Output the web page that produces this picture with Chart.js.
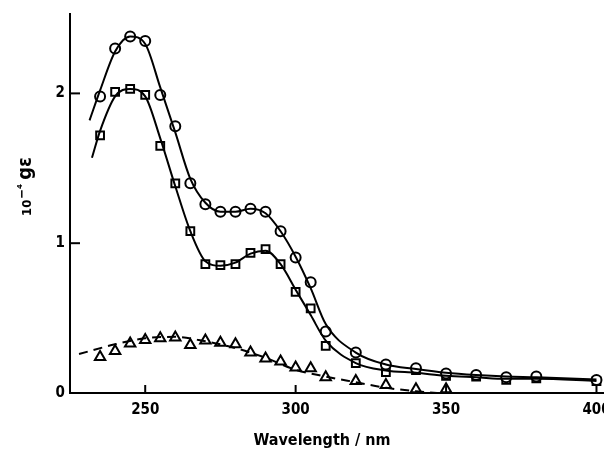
<!DOCTYPE html>
<html>
<head>
<meta charset="utf-8">
<script src="https://cdn.jsdelivr.net/npm/chart.js@4/dist/chart.umd.min.js"></script>
<style>
  html, body { margin: 0; padding: 0; background: #fff; overflow: hidden; }
  #wrap { width: 620px; height: 459px; }
</style>
</head>
<body>
<div id="wrap"><canvas id="spectrum"></canvas></div>
<script>
// values
const circleNm = [235, 240, 245, 250, 255, 260, 265, 270, 275, 280, 285, 290, 295, 300, 305, 310, 320, 330, 340, 350, 360, 370, 380, 400];
const circleEps = [1.98, 2.30, 2.38, 2.35, 1.99, 1.78, 1.40, 1.26, 1.21, 1.21, 1.23, 1.21, 1.08, 0.905, 0.74, 0.41, 0.27, 0.19, 0.165, 0.13, 0.12, 0.105, 0.11, 0.087];

const squareNm = [235, 240, 245, 250, 255, 260, 265, 270, 275, 280, 285, 290, 295, 300, 305, 310, 320, 330, 340, 350, 360, 370, 380, 400];
const squareEps = [1.72, 2.01, 2.03, 1.99, 1.65, 1.40, 1.08, 0.86, 0.853, 0.86, 0.935, 0.96, 0.86, 0.675, 0.565, 0.315, 0.20, 0.14, 0.153, 0.115, 0.11, 0.087, 0.098, 0.08];

const triangleNm = [235, 240, 245, 250, 255, 260, 265, 270, 275, 280, 285, 290, 295, 300, 305, 310, 320, 330, 340, 350];
const triangleEps = [0.24, 0.28, 0.33, 0.353, 0.365, 0.37, 0.32, 0.35, 0.335, 0.325, 0.27, 0.23, 0.21, 0.17, 0.165, 0.105, 0.08, 0.053, 0.025, 0.025];

// the fitted solid curves
const circleCurveNm = [231.5, 235, 240, 245, 250, 255, 260, 265, 270, 275, 280, 285, 290, 295, 300, 305, 310, 320, 330, 340, 350, 360, 370, 380, 400];
const circleCurveEps = [1.82, 2.02, 2.28, 2.38, 2.33, 2.04, 1.74, 1.43, 1.27, 1.21, 1.21, 1.23, 1.20, 1.08, 0.91, 0.70, 0.46, 0.27, 0.19, 0.16, 0.135, 0.12, 0.11, 0.105, 0.09];

const squareCurveNm = [232.3, 235, 240, 245, 250, 255, 260, 265, 270, 275, 280, 285, 290, 295, 300, 305, 310, 320, 330, 340, 350, 360, 370, 380, 400];
const squareCurveEps = [1.57, 1.75, 1.98, 2.03, 1.98, 1.70, 1.38, 1.08, 0.88, 0.85, 0.87, 0.93, 0.95, 0.86, 0.69, 0.52, 0.35, 0.20, 0.15, 0.135, 0.115, 0.105, 0.095, 0.095, 0.08];

// dashed fit under the triangles
const dashNm = [228, 240, 250, 260, 270, 280, 290, 300, 310, 320, 330, 340, 347];
const dashEps = [0.26, 0.325, 0.365, 0.375, 0.345, 0.30, 0.235, 0.155, 0.11, 0.072, 0.035, 0.012, 0];

const xTicks = [250, 300, 350, 400];
const yTicks = [0, 1, 2];

const FONT = "'DejaVu Sans Condensed', 'DejaVu Sans', sans-serif";

function toPoints(xs, ys) {
    return xs.map((x, i) => ({ x: x, y: ys[i] }));
}

// Inward tick marks and the axis titles
const axisExtras = {
    id: 'axisExtras',
    afterDraw(chart) {
        const ctx = chart.ctx;
        const xs = chart.scales.x;
        const ys = chart.scales.y;
        const area = chart.chartArea;
        ctx.save();
        ctx.strokeStyle = '#000';
        ctx.lineWidth = 2;
        xTicks.forEach(v => {
            const px = xs.getPixelForValue(v);
            ctx.beginPath();
            ctx.moveTo(px, area.bottom);
            ctx.lineTo(px, area.bottom - 8);
            ctx.stroke();
        });
        yTicks.forEach(v => {
            if (v === 0) return;
            const py = ys.getPixelForValue(v);
            ctx.beginPath();
            ctx.moveTo(area.left, py);
            ctx.lineTo(area.left + 10, py);
            ctx.stroke();
        });

        ctx.fillStyle = '#000';
        ctx.font = 'bold 16px ' + FONT;
        ctx.textAlign = 'center';
        ctx.textBaseline = 'middle';
        ctx.fillText('Wavelength / nm', 322, 441);

        // y title, written bottom to top
        ctx.translate(31, 216);
        ctx.rotate(-Math.PI / 2);
        ctx.textAlign = 'left';
        ctx.textBaseline = 'alphabetic';
        let pos = 0;
        ctx.font = 'bold 13px ' + FONT;
        ctx.fillText('10', pos, 0);
        pos += ctx.measureText('10').width + 1;
        ctx.font = 'bold 13px ' + FONT;
        ctx.fillText('\u2212\u2074', pos, -5);
        pos += ctx.measureText('\u2212\u2074').width + 4;
        ctx.font = 'bold 20px ' + FONT;
        ctx.fillText('g\u03B5', pos, 0);
        ctx.restore();
    }
};

const ctx = document.getElementById('spectrum').getContext('2d');
new Chart(ctx, {
    type: 'line',
    data: {
        datasets: [
            {
                label: 'circle fit',
                data: toPoints(circleCurveNm, circleCurveEps),
                borderColor: '#000',
                borderWidth: 2,
                pointRadius: 0,
                cubicInterpolationMode: 'monotone'
            },
            {
                label: 'square fit',
                data: toPoints(squareCurveNm, squareCurveEps),
                borderColor: '#000',
                borderWidth: 2,
                pointRadius: 0,
                cubicInterpolationMode: 'monotone'
            },
            {
                label: 'dashed fit',
                data: toPoints(dashNm, dashEps),
                borderColor: '#000',
                borderWidth: 2,
                borderDash: [9, 6],
                pointRadius: 0,
                cubicInterpolationMode: 'monotone'
            },
            {
                label: 'circles',
                data: toPoints(circleNm, circleEps),
                showLine: false,
                pointStyle: 'circle',
                pointRadius: 5,
                pointBorderWidth: 2,
                pointBorderColor: '#000',
                pointBackgroundColor: '#fff'
            },
            {
                label: 'squares',
                data: toPoints(squareNm, squareEps),
                showLine: false,
                pointStyle: 'rect',
                pointRadius: 5.5,
                pointBorderWidth: 2,
                pointBorderColor: '#000',
                pointBackgroundColor: '#fff'
            },
            {
                label: 'triangles',
                data: toPoints(triangleNm, triangleEps),
                showLine: false,
                pointStyle: 'triangle',
                pointRadius: 6,
                pointBorderWidth: 2,
                pointBorderColor: '#000',
                pointBackgroundColor: '#fff'
            }
        ]
    },
    options: {
        responsive: true,
        maintainAspectRatio: false,
        animation: false,
        layout: { padding: { top: 13, right: 16, left: 0, bottom: 0 } },
        plugins: {
            legend: { display: false },
            tooltip: { enabled: false }
        },
        scales: {
            x: {
                type: 'linear',
                min: 225,
                max: 402.5,
                afterFit: scale => { scale.height = 66; },
                afterBuildTicks: scale => { scale.ticks = xTicks.map(v => ({ value: v })); },
                grid: { display: true, drawOnChartArea: false, drawTicks: false },
                border: { display: true, color: '#000', width: 2 },
                ticks: {
                    color: '#000',
                    padding: 8,
                    maxRotation: 0,
                    font: { family: FONT, size: 15, weight: 'bold' }
                }
            },
            y: {
                type: 'linear',
                min: 0,
                max: 2.53,
                afterFit: scale => { scale.width = 70; },
                afterBuildTicks: scale => { scale.ticks = yTicks.map(v => ({ value: v })); },
                grid: { display: true, drawOnChartArea: false, drawTicks: false },
                border: { display: true, color: '#000', width: 2 },
                ticks: {
                    color: '#000',
                    padding: 5,
                    font: { family: FONT, size: 15, weight: 'bold' }
                }
            }
        }
    },
    plugins: [axisExtras]
});
</script>
</body>
</html>
